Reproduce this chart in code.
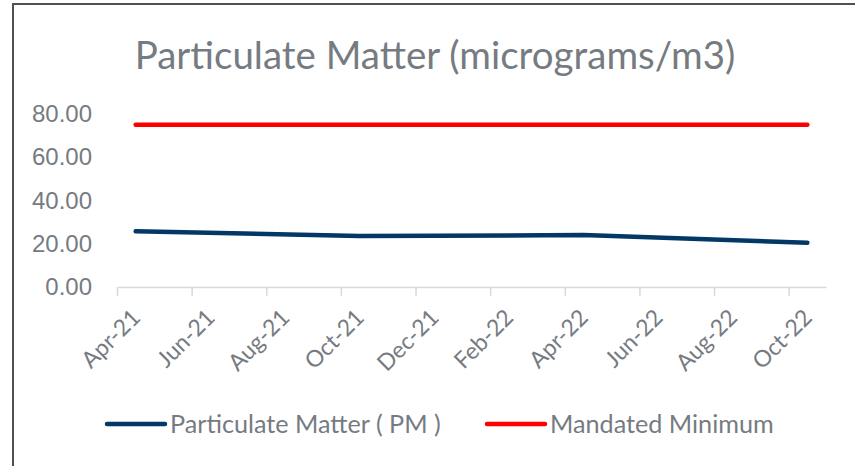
<!DOCTYPE html>
<html>
<head>
<meta charset="utf-8">
<script src="https://cdn.jsdelivr.net/npm/d3@7"></script>
<style>
  body { margin: 0; background: #fff; }
  svg { display: block; font-family: Lato, 'Open Sans', sans-serif; }
</style>
</head>
<body>
<main></main>
<script>
const axisMonths = ['2021-04', '2022-11'];
const tickLabels = [
  'Apr-21',
  'Jun-21',
  'Aug-21',
  'Oct-21',
  'Dec-21',
  'Feb-22',
  'Apr-22',
  'Jun-22',
  'Aug-22',
  'Oct-22',
];
const sampleMonths = ['2021-04', '2021-10', '2022-04', '2022-10'];
const pmValues = [25.8, 23.6, 24.0, 20.5];
const mandatedValues = [75, 75, 75, 75];
const yTicks = [0, 20, 40, 60, 80];
const seriesNames = ['Particulate Matter ( PM )', 'Mandated Minimum'];

const textColor = '#767b82';
const colors = ['#023766', '#ff0000'];

const monthIndex = s => {
  const [y, m] = s.split('-').map(Number);
  const [y0, m0] = axisMonths[0].split('-').map(Number);
  return (y - y0) * 12 + (m - m0);
};

const dimensions = {
  width: 855,
  height: 466,
  plot: { left: 117, right: 826, top: 114, bottom: 287 },
};

const svg = d3
  .select('main')
  .append('svg')
  .attr('width', dimensions.width)
  .attr('height', dimensions.height);

// chart frame (only top/left edges fall inside the picture)
svg
  .append('rect')
  .attr('x', 13)
  .attr('y', 4)
  .attr('width', 900)
  .attr('height', 500)
  .attr('fill', '#fff')
  .attr('stroke', '#505050')
  .attr('stroke-width', 2);

svg
  .append('text')
  .attr('x', 435)
  .attr('y', 69)
  .attr('text-anchor', 'middle')
  .attr('fill', textColor)
  .attr('font-size', 38.5)
  .text('Particulate Matter (micrograms/m3)');

const xScale = d3
  .scaleLinear()
  .domain([0, monthIndex(axisMonths[1])])
  .range([dimensions.plot.left, dimensions.plot.right]);

const yScale = d3
  .scaleLinear()
  .domain([0, 80])
  .range([dimensions.plot.bottom, dimensions.plot.top]);

// x axis: ticks at month boundaries, every 2 months
const xAxis = d3
  .axisBottom(xScale)
  .tickValues(tickLabels.map((d, i) => i * 2))
  .tickSize(9)
  .tickSizeOuter(0)
  .tickFormat('');

const xAxisGroup = svg
  .append('g')
  .attr('transform', `translate(0 ${dimensions.plot.bottom})`)
  .call(xAxis);

xAxisGroup.selectAll('path, line').attr('stroke', '#d9d9d9').attr('stroke-width', 1.5);

svg
  .append('g')
  .selectAll('text')
  .data(tickLabels)
  .join('text')
  .attr('text-anchor', 'end')
  .attr('fill', textColor)
  .attr('font-size', 23)
  .attr('transform', (d, i) => `translate(${xScale(i * 2 + 0.5) + 6} 319) rotate(-45)`)
  .text(d => d);

const yAxis = d3
  .axisLeft(yScale)
  .tickValues(yTicks)
  .tickSize(0)
  .tickPadding(0)
  .tickFormat(d3.format('.2f'));

const yAxisGroup = svg
  .append('g')
  .attr('transform', 'translate(92 0)')
  .call(yAxis);

yAxisGroup.select('path').remove();
yAxisGroup
  .selectAll('text')
  .attr('fill', textColor)
  .attr('font-size', 24)
  .attr('font-family', null);

const line = d3
  .line()
  .x(d => xScale(monthIndex(d.month) + 0.5))
  .y(d => yScale(d.value));

[pmValues, mandatedValues].forEach((values, k) => {
  svg
    .append('path')
    .attr('fill', 'none')
    .attr('stroke', colors[k])
    .attr('stroke-width', 4.5)
    .attr('stroke-linecap', 'round')
    .attr('stroke-linejoin', 'round')
    .attr('d', line(values.map((value, i) => ({ month: sampleMonths[i], value }))));
});

// legend
const legendItems = [
  { x: 107, name: seriesNames[0], color: colors[0] },
  { x: 487, name: seriesNames[1], color: colors[1] },
];

const legend = svg
  .append('g')
  .selectAll('g')
  .data(legendItems)
  .join('g')
  .attr('transform', d => `translate(${d.x} 424)`);

legend
  .append('line')
  .attr('x1', 0)
  .attr('x2', 58)
  .attr('stroke', d => d.color)
  .attr('stroke-width', 4.5)
  .attr('stroke-linecap', 'round');

legend
  .append('text')
  .attr('x', 63)
  .attr('y', 8.5)
  .attr('fill', textColor)
  .attr('font-size', 25.2)
  .text(d => d.name);
</script>
</body>
</html>
